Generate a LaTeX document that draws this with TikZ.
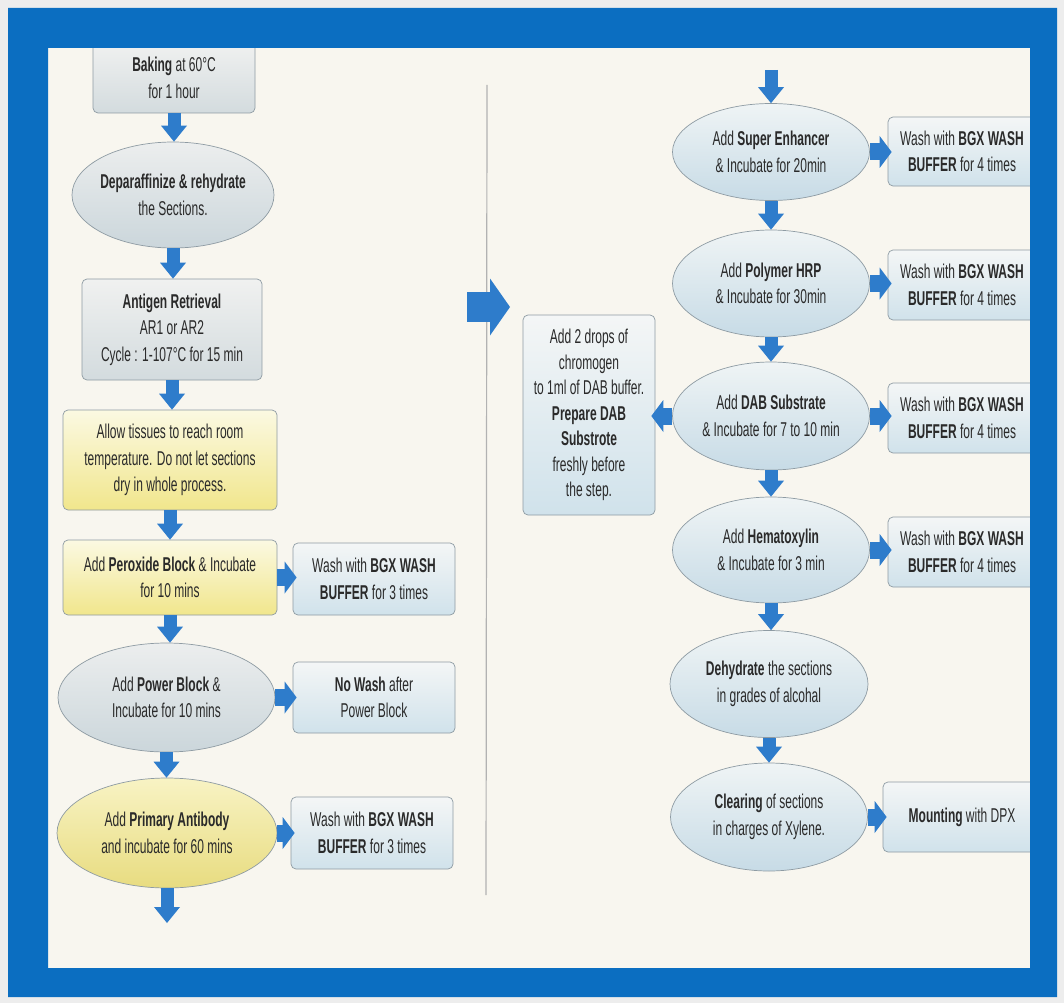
\documentclass[tikz,border=0pt]{standalone}
\usepackage{fontspec}
\setmainfont{Liberation Sans}[FakeStretch=0.6]
\usetikzlibrary{shapes.geometric,arrows.meta}
\definecolor{bgout}{HTML}{EDEDED}
\definecolor{cream}{HTML}{F8F6EF}
\definecolor{frameblue}{HTML}{0B6EC1}
\definecolor{arrblue}{HTML}{2E7CCB}
\definecolor{bordergray}{HTML}{8E9BA3}
\definecolor{txt}{HTML}{2A2A2A}
\definecolor{boxtop}{HTML}{F4F6F6}
\definecolor{boxbot}{HTML}{D0E2EB}
\definecolor{graytop}{HTML}{F0F1F0}
\definecolor{graybot}{HTML}{D3DBDE}
\definecolor{elltop}{HTML}{EFF4F5}
\definecolor{ellbot}{HTML}{C7DBE6}
\definecolor{gelltop}{HTML}{ECEEEE}
\definecolor{gellbot}{HTML}{CBD6DB}
\definecolor{yeltop}{HTML}{FBF9E2}
\definecolor{yelbot}{HTML}{F1E68C}
\definecolor{pyeltop}{HTML}{F8F3C4}
\definecolor{pyelbot}{HTML}{E8DC80}
\newcommand\fs{\fontsize{20}{26.5}\selectfont}
\newcommand\zl[1]{\makebox[0pt]{#1}}
\begin{document}
\begin{tikzpicture}[x=1pt,y=-1pt,
  basebox/.style={draw=bordergray, line width=0.7pt, rounded corners=5pt, inner sep=0pt,
    align=center, font=\fs, text=txt},
  bluebox/.style={basebox, top color=boxtop, bottom color=boxbot},
  graybox/.style={basebox, top color=graytop, bottom color=graybot},
  yelbox/.style={basebox, top color=yeltop, bottom color=yelbot},
  baseell/.style={ellipse, draw=bordergray, line width=0.7pt, inner sep=0pt,
    align=center, font=\fs, text=txt},
  blueell/.style={baseell, top color=elltop, bottom color=ellbot},
  grayell/.style={baseell, top color=gelltop, bottom color=gellbot},
  yelell/.style={baseell, top color=pyeltop, bottom color=pyelbot},
  darr/.style={draw=arrblue, line width=13pt,
    -{Triangle[length=16pt,width=26pt,line width=0pt]}},
  rarr/.style={draw=arrblue, line width=17pt, shorten >=-4pt,
    -{Triangle[length=12pt,width=32pt,line width=0pt]}},
  bigarr/.style={draw=arrblue, line width=30pt,
    -{Triangle[length=20pt,width=57pt,line width=0pt]}}
]
\useasboundingbox (0,0) rectangle (1064,1003);
\fill[bgout] (0,0) rectangle (1064,1003);
\fill[cream] (40,40) rectangle (1040,975);

% divider
\coordinate (divT) at (487,85);
\coordinate (divB) at (486,895);
\draw[black!30, line width=1.2pt] (divT) -- (divB);

% left column
\node[graybox, minimum width=162pt, minimum height=70pt] (bake) at (174,78)
  {\textbf{Baking} at 60°C\\for 1 hour};
\node[grayell, minimum width=202pt, minimum height=106pt] (depar) at (173,195)
  {\zl{\textbf{Deparaffinize \& rehydrate}}\\\zl{the Sections.}};
\node[graybox, minimum width=180pt, minimum height=101pt] (antigen) at (172,329.5)
  {\textbf{Antigen Retrieval}\\AR1 or AR2\\Cycle : 1-107°C for 15 min};
\node[yelbox, minimum width=214pt, minimum height=100pt] (allow) at (170,460)
  {Allow tissues to reach room\\temperature. Do not let sections\\dry in whole process.};
\node[yelbox, minimum width=214pt, minimum height=75pt] (perox) at (170,577.5)
  {Add \textbf{Peroxide Block} \& Incubate\\for 10 mins};
\node[bluebox, minimum width=162pt, minimum height=72pt] (wash1) at (374,579)
  {Wash with \textbf{BGX WASH}\\\textbf{BUFFER} for 3 times};
\node[grayell, minimum width=217pt, minimum height=109pt] (power) at (166.5,697.5)
  {\zl{Add \textbf{Power Block} \&}\\\zl{Incubate for 10 mins}};
\node[bluebox, minimum width=162pt, minimum height=71pt] (nowash) at (374,697.5)
  {\textbf{No Wash} after\\Power Block};
\node[yelell, minimum width=220pt, minimum height=110pt] (primary) at (167,833)
  {\zl{Add \textbf{Primary Antibody}}\\\zl{and incubate for 60 mins}};
\node[bluebox, minimum width=162pt, minimum height=72pt] (wash2) at (372,833)
  {Wash with \textbf{BGX WASH}\\\textbf{BUFFER} for 3 times};
\coordinate (lbot) at (165,923);

% right column
\coordinate (rtop) at (771,70);
\node[blueell, minimum width=197pt, minimum height=97pt] (super) at (771,152)
  {\zl{Add \textbf{Super Enhancer}}\\\zl{\& Incubate for 20min}};
\node[bluebox, minimum width=148pt, minimum height=69pt] (washS) at (962,151.5)
  {Wash with \textbf{BGX WASH}\\\textbf{BUFFER} for 4 times};
\node[blueell, minimum width=197pt, minimum height=107pt] (poly) at (771,283.5)
  {\zl{Add \textbf{Polymer HRP}}\\\zl{\& Incubate for 30min}};
\node[bluebox, minimum width=148pt, minimum height=70pt] (washP) at (962,285)
  {Wash with \textbf{BGX WASH}\\\textbf{BUFFER} for 4 times};
\node[blueell, minimum width=197pt, minimum height=108pt] (dab) at (771,416)
  {\zl{Add \textbf{DAB Substrate}}\\\zl{\& Incubate for 7 to 10 min}};
\node[bluebox, minimum width=148pt, minimum height=70pt] (washD) at (962,418)
  {Wash with \textbf{BGX WASH}\\\textbf{BUFFER} for 4 times};
\node[bluebox, minimum width=132pt, minimum height=200pt, font=\fontsize{20}{25.5}\selectfont] (note) at (589,415)
  {Add 2 drops of\\chromogen\\to 1ml of DAB buffer.\\\textbf{Prepare DAB}\\\textbf{Substrote}\\freshly before\\the step.};
\node[blueell, minimum width=197pt, minimum height=106pt] (hema) at (771,550)
  {\zl{Add \textbf{Hematoxylin}}\\\zl{\& Incubate for 3 min}};
\node[bluebox, minimum width=148pt, minimum height=70pt] (washH) at (962,552)
  {Wash with \textbf{BGX WASH}\\\textbf{BUFFER} for 4 times};
\node[blueell, minimum width=198pt, minimum height=107pt] (dehyd) at (769,684)
  {\zl{\textbf{Dehydrate} the sections}\\\zl{in grades of alcohal}};
\node[blueell, minimum width=197pt, minimum height=108pt] (clear) at (769,817)
  {\zl{\textbf{Clearing} of sections}\\\zl{in charges of Xylene.}};
\node[bluebox, minimum width=158pt, minimum height=70pt] (mount) at (962,817)
  {\textbf{Mounting} with DPX};

% big arrow
\coordinate (bigA) at (467,307);
\coordinate (bigB) at (510,307);
\draw[bigarr] (bigA) -- (bigB);

% left arrows
\draw[darr] (bake.south) -- (bake.south |- depar.north);
\draw[darr] (depar.south) -- (depar.south |- antigen.north);
\draw[darr] (antigen.south) -- (antigen.south |- allow.north);
\draw[darr] (allow.south) -- (allow.south |- perox.north);
\draw[darr] (perox.south) -- (perox.south |- power.north);
\draw[darr] (power.south) -- (power.south |- primary.north);
\draw[darr] (primary.south) -- (primary.south |- lbot);
\draw[rarr] (perox.east) -- (perox.east -| wash1.west);
\draw[rarr] (power.east) -- (power.east -| nowash.west);
\draw[rarr] (primary.east) -- (primary.east -| wash2.west);

% right arrows
\draw[darr] (rtop) -- (super.north);
\draw[darr] (super.south) -- (poly.north);
\draw[darr] (poly.south) -- (dab.north);
\draw[darr] (dab.south) -- (hema.north);
\draw[darr] (hema.south) -- (hema.south |- dehyd.north);
\draw[darr] (dehyd.south) -- (clear.north);
\draw[rarr] (super.east) -- (super.east -| washS.west);
\draw[rarr] (poly.east) -- (poly.east -| washP.west);
\draw[rarr] (dab.east) -- (dab.east -| washD.west);
\draw[rarr] (hema.east) -- (hema.east -| washH.west);
\draw[rarr] (clear.east) -- (clear.east -| mount.west);
\draw[rarr] (dab.west) -- (dab.west -| note.east);

% frame
\fill[frameblue, even odd rule] (8,8) rectangle (1057,997) (48,48) rectangle (1030,968);
\end{tikzpicture}
\end{document}
